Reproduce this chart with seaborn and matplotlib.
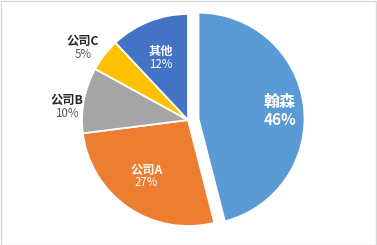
import numpy as np
import matplotlib
matplotlib.use("Agg")
import matplotlib.pyplot as plt
import seaborn as sns
from matplotlib.patches import Rectangle

categories = ["翰森", "公司A", "公司B", "公司C", "其他"]
values = [46, 27, 10, 5, 12]
pct_labels = ["46%", "27%", "10%", "5%", "12%"]
colors = ["#5B9BD5", "#ED7D31", "#A5A5A5", "#FFC000", "#4472C4"]
explode_frac = [0.1, 0, 0, 0, 0]
label_radius = [0.77, 0.66, 1.15, 1.2, 0.64]
label_angle_shift = [-2, -2, 4.7, 3.4, 2.5]
inside = [True, True, False, False, True]

sns.set_theme(style="white")
plt.rcParams['font.family'] = ['Noto Sans CJK SC', 'DejaVu Sans']
palette = sns.color_palette(colors)

fig = plt.figure(figsize=(3.77, 2.45), dpi=100)
ax = fig.add_axes([0, 0, 1, 1])

cx, cy, R = 188, 125, 106
wedges, _ = ax.pie(values, colors=palette, explode=[e * R for e in explode_frac],
                   startangle=90, counterclock=False, center=(cx, cy), radius=R,
                   wedgeprops=dict(edgecolor='white', linewidth=1.3))
ax.set_xlim(0, 377)
ax.set_ylim(0, 245)
ax.set_aspect('equal')
ax.axis('off')

for i, w in enumerate(wedges):
    mid = np.deg2rad((w.theta1 + w.theta2) / 2 + label_angle_shift[i])
    wx, wy = w.center
    x = wx + label_radius[i] * R * np.cos(mid)
    y = wy + label_radius[i] * R * np.sin(mid)
    big = (i == 0)
    if inside[i]:
        c_name, c_pct = 'white', 'white'
    else:
        c_name, c_pct = '#262626', '#595959'
    ax.text(x, y + (1 if big else 0), categories[i], ha='center', va='bottom',
            fontsize=11.5 if big else 8.8, fontweight='bold', color=c_name)
    ax.text(x, y - (1 if big else 0), pct_labels[i], ha='center', va='top',
            fontsize=11 if big else 8.3, fontweight='bold' if big else 'medium',
            color=c_pct)

fig.patches.append(Rectangle((0.5 / 377, 0.5 / 245), 1 - 1.5 / 377, 1 - 1.5 / 245,
                             transform=fig.transFigure, fill=False,
                             edgecolor='#D9D9D9', linewidth=1))
fig.savefig("out.png", dpi=100)
